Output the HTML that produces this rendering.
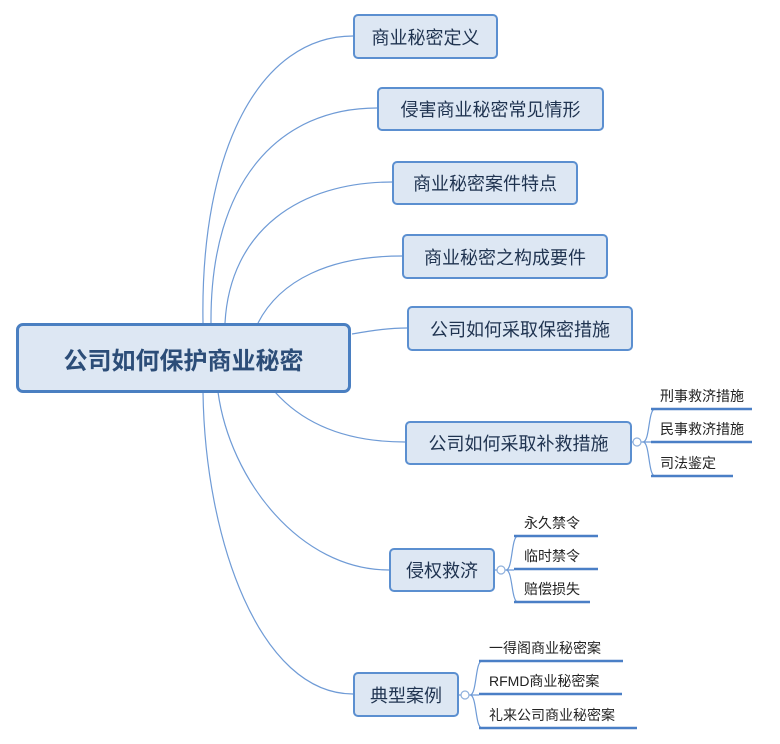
<!DOCTYPE html>
<html><head><meta charset="utf-8"><style>
body{margin:0;background:#fff;width:780px;height:744px;overflow:hidden;position:relative;font-family:"Liberation Sans","Noto Sans CJK SC",sans-serif}
.b{position:absolute;box-sizing:border-box;background:#dde7f3;border:2px solid #5b8fd0;border-radius:5px;color:#1f3350;font-size:18px;display:flex;align-items:center;justify-content:center;white-space:nowrap}
.s{position:absolute;font-size:14px;color:#222;white-space:nowrap}
svg{position:absolute;left:0;top:0}
</style></head><body>
<svg width="780" height="744" fill="none" stroke="#6f9bd6" stroke-width="1.2">
<path d="M203 323 C200 150 260 36 353 36"/>
<path d="M211 323 C210 180 280 108 377 108"/>
<path d="M225 323 C230 230 300 182 392 182"/>
<path d="M258 323 C280 280 330 256 402 256"/>
<path d="M352 334 C375 330 390 328 407 328"/>
<path d="M275 392 C300 420 340 442 405 442"/>
<path d="M218 392 C230 480 300 570 389 570"/>
<path d="M203 392 C205 540 260 694 353 694"/>
<path d="M631 442 L643 442 C650 442 648 409 655 409 M643 442 L651 442 M643 442 C650 442 648 476 655 476"/>
<path d="M494 570 L506 570 C513 570 511 536 518 536 M506 570 L514 570 M506 570 C513 570 511 602 518 602"/>
<path d="M458 695 L470 695 C477 695 475 661 482 661 M470 695 L479 695 M470 695 C477 695 475 728 482 728"/>
<g stroke="#4a7fc6" stroke-width="2.5">
<path d="M651 409 H752 M651 442 H752 M651 476 H733"/>
<path d="M514 536 H598 M514 569 H598 M514 602 H590"/>
<path d="M479 661 H623 M479 694 H622 M479 728 H637"/>
</g>
<g fill="#fff" stroke="#8fb0dc"><circle cx="637" cy="442" r="4"/><circle cx="501" cy="570" r="4"/><circle cx="465" cy="695" r="4"/></g>
</svg>
<div class="b" style="left:16px;top:323px;width:335px;height:70px;border:3px solid #4a7fc1;border-radius:7px;font-size:24px;font-weight:bold;color:#2c4d78">公司如何保护商业秘密</div>
<div class="b" style="left:353px;top:14px;width:145px;height:45px">商业秘密定义</div>
<div class="b" style="left:377px;top:87px;width:227px;height:44px">侵害商业秘密常见情形</div>
<div class="b" style="left:392px;top:161px;width:186px;height:44px">商业秘密案件特点</div>
<div class="b" style="left:402px;top:234px;width:206px;height:45px">商业秘密之构成要件</div>
<div class="b" style="left:407px;top:306px;width:226px;height:45px">公司如何采取保密措施</div>
<div class="b" style="left:405px;top:421px;width:227px;height:44px">公司如何采取补救措施</div>
<div class="b" style="left:389px;top:548px;width:106px;height:44px">侵权救济</div>
<div class="b" style="left:353px;top:672px;width:106px;height:45px">典型案例</div>
<div class="s" style="left:660px;top:386px">刑事救济措施</div>
<div class="s" style="left:660px;top:419px">民事救济措施</div>
<div class="s" style="left:660px;top:453px">司法鉴定</div>
<div class="s" style="left:524px;top:513px">永久禁令</div>
<div class="s" style="left:524px;top:546px">临时禁令</div>
<div class="s" style="left:524px;top:579px">赔偿损失</div>
<div class="s" style="left:489px;top:638px">一得阁商业秘密案</div>
<div class="s" style="left:489px;top:671px">RFMD商业秘密案</div>
<div class="s" style="left:489px;top:705px">礼来公司商业秘密案</div>
</body></html>
